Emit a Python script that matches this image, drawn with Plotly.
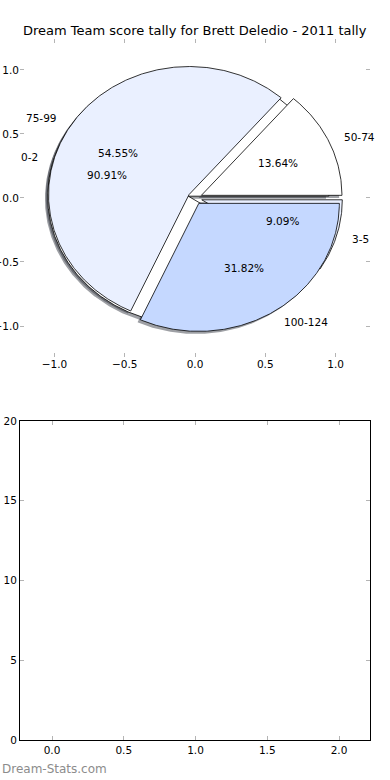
import numpy as np
import plotly.graph_objects as go

# ---- data ----
title_text = "Dream Team score tally for Brett Deledio - 2011 tally"
labels_a = ["0-2", "3-5"]
values_a = [20, 2]
labels_b = ["50-74", "75-99", "100-124"]
values_b = [3, 12, 7]
watermark = "Dream-Stats.com"

# ---- style ----
colors_a = ["#ffffff", "#eaf0ff"]
colors_b = ["#ffffff", "#eaf0ff", "#c5d8ff"]
explode = 0.05
label_dist = 1.1
pct_dist = 0.6
shadow_off = (-0.02, -0.02)
FONT = "DejaVu Sans"


def wedge_xy(cx, cy, t1, t2, r=1.0):
    th = np.linspace(np.radians(t1), np.radians(t2), max(int(abs(t2 - t1) * 2), 8))
    xs = np.concatenate([[cx], cx + r * np.cos(th), [cx]])
    ys = np.concatenate([[cy], cy + r * np.sin(th), [cy]])
    return xs, ys


def pie_geometry(values):
    total = float(sum(values))
    out = []
    t1 = 0.0
    for v in values:
        frac = v / total
        t2 = t1 + 360.0 * frac
        tm = np.radians((t1 + t2) / 2)
        cx = explode * np.cos(tm)
        cy = explode * np.sin(tm)
        out.append(dict(t1=t1, t2=t2, tm=tm, cx=cx, cy=cy, pct=100 * frac))
        t1 = t2
    return out


geo_a = pie_geometry(values_a)
geo_b = pie_geometry(values_b)

fig = go.Figure()

# shadows first (lower z-order), for both pies
for geo in (geo_a, geo_b):
    for g in geo:
        xs, ys = wedge_xy(g["cx"] + shadow_off[0], g["cy"] + shadow_off[1], g["t1"], g["t2"])
        fig.add_trace(go.Scatter(x=xs, y=ys, mode="lines", fill="toself",
                                 fillcolor="rgba(40,45,55,0.45)",
                                 line=dict(width=0, color="rgba(0,0,0,0)"),
                                 hoverinfo="skip", showlegend=False,
                                 xaxis="x", yaxis="y"))

annotations = []
for geo, labels, colors in ((geo_a, labels_a, colors_a), (geo_b, labels_b, colors_b)):
    for g, lab, col in zip(geo, labels, colors):
        xs, ys = wedge_xy(g["cx"], g["cy"], g["t1"], g["t2"])
        fig.add_trace(go.Scatter(x=xs, y=ys, mode="lines", fill="toself",
                                 fillcolor=col, line=dict(width=0.8, color="black"),
                                 hoverinfo="skip", showlegend=False,
                                 xaxis="x", yaxis="y"))
        xt = g["cx"] + label_dist * np.cos(g["tm"])
        yt = g["cy"] + label_dist * np.sin(g["tm"])
        annotations.append(dict(x=xt, y=yt, xref="x", yref="y", text=lab, showarrow=False,
                                xanchor="left" if xt > 0 else "right", yanchor="middle",
                                font=dict(family=FONT, size=10.5, color="black")))
        xp = g["cx"] + pct_dist * np.cos(g["tm"])
        yp = g["cy"] + pct_dist * np.sin(g["tm"])
        annotations.append(dict(x=xp, y=yp, xref="x", yref="y", text="%.2f%%" % g["pct"],
                                showarrow=False, xanchor="center", yanchor="middle",
                                font=dict(family=FONT, size=10.5, color="black")))

# empty bottom axes (invisible point to instantiate the axes)
fig.add_trace(go.Scatter(x=[None], y=[None], mode="markers", showlegend=False,
                         hoverinfo="skip", xaxis="x2", yaxis="y2"))

annotations.append(dict(x=0.5, y=1.0128, xref="paper", yref="paper", text=title_text,
                        showarrow=False, xanchor="center", yanchor="middle",
                        font=dict(family=FONT, size=13, color="black")))
annotations.append(dict(x=-0.0571, y=-0.0414, xref="paper", yref="paper", text=watermark,
                        showarrow=False, xanchor="left", yanchor="middle",
                        font=dict(family=FONT, size=12, color="#8c8c8c")))

tick_common = dict(ticks="inside", ticklen=4, tickwidth=1, tickcolor="#b4b4b4",
                   showgrid=False, zeroline=False, automargin=False,
                   tickfont=dict(family=FONT, size=10.5, color="black"))

fig.update_layout(
    width=390, height=780,
    margin=dict(l=20, r=20, t=39, b=40, autoexpand=False),
    paper_bgcolor="white", plot_bgcolor="white",
    annotations=annotations,
    xaxis=dict(domain=[0, 1], anchor="y", range=[-1.245, 1.245],
               tickvals=[-1.0, -0.5, 0.0, 0.5, 1.0], tickformat=".1f",
               showline=False, mirror="ticks", **tick_common),
    yaxis=dict(domain=[0.5464, 1.0], anchor="x", range=[-1.242, 1.242],
               tickvals=[-1.0, -0.5, 0.0, 0.5, 1.0], tickformat=".1f",
               showline=False, mirror="ticks", **tick_common),
    xaxis2=dict(domain=[0, 1], anchor="y2", range=[-0.223, 2.216],
                tickvals=[0.0, 0.5, 1.0, 1.5, 2.0], tickformat=".1f",
                showline=True, linecolor="black", linewidth=1, mirror="ticks", **tick_common),
    yaxis2=dict(domain=[0, 0.4551], anchor="x2", range=[0, 20],
                tickvals=[0, 5, 10, 15, 20],
                showline=True, linecolor="black", linewidth=1, mirror="ticks", **tick_common),
)

fig.write_html("out.html", config={"displayModeBar": False, "staticPlot": True},
               post_script="document.body.style.margin='0';document.body.style.padding='0';")
